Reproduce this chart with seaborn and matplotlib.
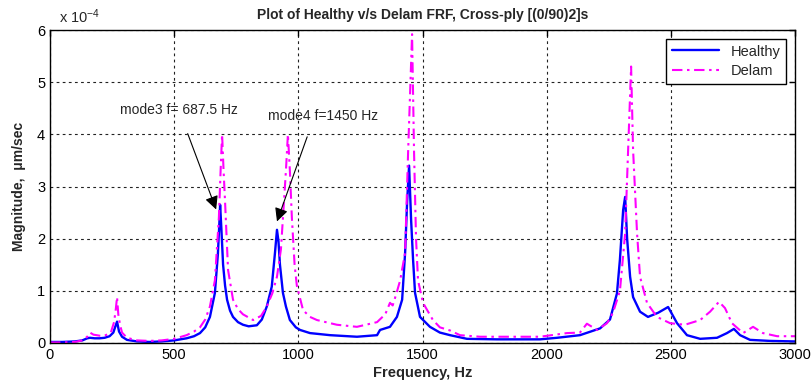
import matplotlib
matplotlib.use("Agg")
import matplotlib.pyplot as plt
import seaborn as sns
import pandas as pd

# ---- data (magnitude in units of 1e-4 um/sec) ----
healthy_freq = [0, 50, 100, 130, 150, 161, 180, 200, 220, 240, 255, 262, 270, 278, 290, 310,
                350, 400, 450, 500, 550, 580, 604, 625, 644, 664, 676, 682, 685, 690, 697, 705,
                713, 725, 737, 757, 777, 800, 833, 853, 873, 893, 906, 914, 920, 926, 938, 950,
                966, 990, 1007, 1047, 1128, 1236, 1317, 1329, 1369, 1397, 1418, 1430, 1438, 1446,
                1454, 1462, 1470, 1490, 1530, 1570, 1611, 1679, 1800, 1973, 2042, 2134, 2215,
                2255, 2283, 2295, 2308, 2316, 2324, 2336, 2348, 2376, 2408, 2449, 2489, 2525,
                2565, 2618, 2686, 2726, 2754, 2779, 2819, 2899, 3000]
healthy_mag = [0.02, 0.02, 0.03, 0.05, 0.09, 0.10, 0.09, 0.09, 0.10, 0.13, 0.20, 0.30, 0.41, 0.22, 0.12, 0.06,
               0.03, 0.02, 0.03, 0.05, 0.09, 0.13, 0.19, 0.30, 0.50, 0.96, 1.70, 2.30, 2.65, 2.20, 1.50, 1.10,
               0.83, 0.62, 0.50, 0.40, 0.35, 0.32, 0.34, 0.45, 0.70, 1.08, 1.73, 2.17, 1.95, 1.50, 0.96, 0.70,
               0.44, 0.30, 0.25, 0.19, 0.15, 0.12, 0.15, 0.25, 0.31, 0.50, 0.83, 1.73, 2.70, 3.40,
               2.37, 1.60, 0.96, 0.50, 0.31, 0.20, 0.15, 0.08, 0.07, 0.07, 0.10, 0.15, 0.28,
               0.45, 0.95, 1.60, 2.55, 2.80, 2.00, 1.27, 0.88, 0.60, 0.50, 0.58, 0.69, 0.38,
               0.15, 0.08, 0.10, 0.19, 0.27, 0.15, 0.06, 0.04, 0.03]

delam_freq = [0, 50, 100, 130, 150, 161, 175, 200, 220, 245, 258, 265, 270, 275, 282, 290, 310,
              350, 400, 450, 500, 550, 580, 604, 625, 644, 664, 680, 687, 693, 699, 705, 717, 737,
              757, 777, 818, 850, 873, 895, 914, 930, 938, 950, 958, 966, 974, 985, 994, 1019,
              1047, 1075, 1155, 1236, 1317, 1350, 1369, 1380, 1395, 1410, 1430, 1442, 1458, 1466,
              1474, 1482, 1502, 1542, 1570, 1611, 1651, 1732, 1973, 2082, 2134, 2162, 2203, 2243,
              2267, 2295, 2316, 2328, 2340, 2348, 2364, 2376, 2404, 2444, 2497, 2557, 2618, 2658,
              2694, 2718, 2746, 2791, 2831, 2871, 2928, 3000]
delam_mag = [0.01, 0.01, 0.02, 0.05, 0.12, 0.20, 0.16, 0.14, 0.14, 0.20, 0.40, 0.65, 0.88, 0.55, 0.35, 0.20, 0.10,
             0.05, 0.04, 0.05, 0.08, 0.15, 0.22, 0.30, 0.45, 0.70, 1.20, 2.40, 3.30, 4.00, 3.30, 2.70, 1.40, 0.83,
             0.65, 0.55, 0.44, 0.52, 0.70, 0.95, 1.27, 1.80, 2.40, 3.30, 4.00, 3.30, 2.40, 1.50, 1.10, 0.63,
             0.50, 0.44, 0.35, 0.31, 0.40, 0.55, 0.77, 0.72, 0.95, 1.20, 1.73, 3.65, 5.92, 3.65,
             2.00, 1.20, 0.77, 0.44, 0.30, 0.24, 0.15, 0.12, 0.12, 0.19, 0.20, 0.37, 0.25, 0.38,
             0.58, 1.00, 2.10, 3.70, 5.30, 3.70, 2.10, 1.27, 0.77, 0.50, 0.38, 0.35, 0.44, 0.60,
             0.79, 0.67, 0.38, 0.19, 0.31, 0.19, 0.13, 0.13]

series_names = ["Healthy", "Delam"]
x_ticks = [0, 500, 1000, 1500, 2000, 2500, 3000]
y_ticks = [0, 1, 2, 3, 4, 5, 6]

df_h = pd.DataFrame({"Frequency": healthy_freq, "Magnitude": healthy_mag})
df_d = pd.DataFrame({"Frequency": delam_freq, "Magnitude": delam_mag})

sns.set_style("white")
plt.rcParams["font.family"] = ["Liberation Sans", "DejaVu Sans"]
plt.rcParams["mathtext.fontset"] = "custom"
plt.rcParams["mathtext.rm"] = "Liberation Sans"
plt.rcParams["mathtext.it"] = "Liberation Sans:italic"
plt.rcParams["mathtext.bf"] = "Liberation Sans:bold"

DASHDOT = (0, (5, 2.2, 1.2, 2.2))

fig = plt.figure(figsize=(8.11, 3.92), dpi=100)
ax = fig.add_axes([50 / 811, 1 - 343 / 392, 745 / 811, 313 / 392])

sns.lineplot(data=df_h, x="Frequency", y="Magnitude", ax=ax, color="#0000ff",
             linewidth=1.7, label=series_names[0], sort=False, estimator=None)
sns.lineplot(data=df_d, x="Frequency", y="Magnitude", ax=ax, color="#ff00ff",
             linewidth=1.5, linestyle=DASHDOT, label=series_names[1],
             sort=False, estimator=None)

ax.set_xlim(0, 3000)
ax.set_ylim(0, 6)
ax.set_xticks(x_ticks)
ax.set_yticks(y_ticks)
ax.set_xticklabels([str(t) for t in x_ticks], fontsize=10.5)
ax.set_yticklabels([str(t) for t in y_ticks], fontsize=10.5)
ax.tick_params(direction="in", top=True, right=True, length=4, width=1, colors="black")
for s in ax.spines.values():
    s.set_visible(True)
    s.set_color("black")
    s.set_linewidth(1.0)

ax.grid(True, color="#222222", linestyle=(0, (2.5, 3)), linewidth=0.8)
ax.set_axisbelow(True)

ax.set_xlabel("Frequency, Hz", fontsize=10.5, fontweight="bold", labelpad=3)
ax.set_ylabel("Magnitude,  \u03bcm/sec", fontsize=10, fontweight="bold", labelpad=8)
ax.set_title("Plot of Healthy v/s Delam FRF, Cross-ply [(0/90)2]s", fontsize=10,
             fontweight="bold", pad=8)
ax.text(0.012, 1.012, "x 10$^{-4}$", transform=ax.transAxes, fontsize=10.5,
        ha="left", va="bottom")

ax.annotate("mode3 f= 687.5 Hz", xy=(669, 2.56), xytext=(282, 4.46),
            fontsize=10, ha="left", va="center",
            arrowprops=dict(arrowstyle="-|>", color="black", lw=0.8,
                            mutation_scale=20, shrinkA=10, shrinkB=0))
ax.annotate("mode4 f=1450 Hz", xy=(914, 2.33), xytext=(878, 4.35),
            fontsize=10, ha="left", va="center",
            arrowprops=dict(arrowstyle="-|>", color="black", lw=0.8,
                            mutation_scale=20, shrinkA=8, shrinkB=0,
                            relpos=(0.4, 0.0)))

handles, labels = ax.get_legend_handles_labels()
leg = ax.legend(handles, labels, loc="upper right", fontsize=10.5, frameon=True, fancybox=False,
                framealpha=1, edgecolor="black", borderaxespad=0.6,
                handlelength=3.2, borderpad=0.4, labelspacing=0.4)
leg.get_frame().set_linewidth(1.0)

fig.savefig("out.png", dpi=100)
